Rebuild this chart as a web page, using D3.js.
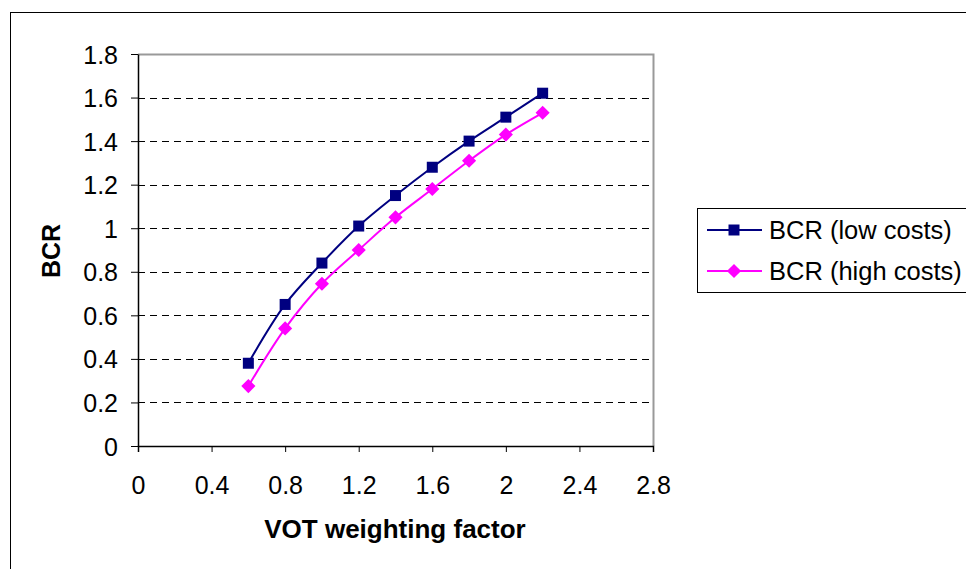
<!DOCTYPE html>
<meta charset="utf-8">
<script src="https://d3js.org/d3.v7.min.js"></script>
<style>
body { margin: 0; background: #fff; }
text { font-family: "Liberation Sans", Arial, Helvetica, sans-serif; }
</style>
<div id="chart"></div>
<script>
// values
const factors = [0.6, 0.8, 1.0, 1.2, 1.4, 1.6, 1.8, 2.0, 2.2];
const bcrLow  = [0.38, 0.65, 0.84, 1.01, 1.15, 1.28, 1.40, 1.51, 1.62];
const bcrHigh = [0.275, 0.54, 0.745, 0.90, 1.05, 1.18, 1.31, 1.43, 1.53];
const xTicks = [0, 0.4, 0.8, 1.2, 1.6, 2, 2.4, 2.8];
const yTicks = [0, 0.2, 0.4, 0.6, 0.8, 1, 1.2, 1.4, 1.6, 1.8];
const seriesNames = ["BCR (low costs)", "BCR (high costs)"];

const W = 966, H = 569;
const plot = {left: 138, top: 54, right: 653, bottom: 446};

const svg = d3.select("#chart").append("svg")
    .attr("width", W)
    .attr("height", H);

// outer chart border (runs off the right and bottom)
svg.append("rect")
    .attr("x", 10.5).attr("y", 12.5)
    .attr("width", 1000).attr("height", 1000)
    .attr("fill", "none").attr("stroke", "#000").attr("stroke-width", 1);

const x = d3.scaleLinear().domain([0, 2.8]).range([plot.left, plot.right]);
const y = d3.scaleLinear().domain([0, 1.8]).range([plot.bottom, plot.top]);

// dashed gridlines
svg.append("g")
  .selectAll("line")
  .data(yTicks.filter(d => d > 0 && d < 1.8))
  .join("line")
    .attr("x1", plot.left).attr("x2", plot.right)
    .attr("y1", d => Math.round(y(d)) + 0.5).attr("y2", d => Math.round(y(d)) + 0.5)
    .attr("stroke", "#000").attr("stroke-dasharray", "7,5");

// plot area frame: grey on top & right
svg.append("path")
    .attr("d", `M${plot.left},${plot.top + 0.5}H${plot.right + 0.5}V${plot.bottom}`)
    .attr("fill", "none").attr("stroke", "#999").attr("stroke-width", 2);

// axes
const xAxis = svg.append("g")
    .attr("transform", `translate(0,${plot.bottom})`)
    .call(d3.axisBottom(x).tickValues(xTicks).tickFormat(d3.format("~g")).tickSize(6).tickSizeOuter(6));
const yAxis = svg.append("g")
    .attr("transform", `translate(${plot.left},0)`)
    .call(d3.axisLeft(y).tickValues(yTicks).tickFormat(d3.format("~g")).tickSize(7).tickSizeOuter(0));

[xAxis, yAxis].forEach(a => {
  a.selectAll("text").style("font-size", "25px").attr("fill", "#000");
  a.selectAll("line").attr("stroke", "#000");
  a.select(".domain").attr("stroke", "#000").attr("stroke-width", 1.5);
});
xAxis.selectAll("text").attr("y", 0).attr("dy", 0).attr("transform", "translate(0,48)");
yAxis.selectAll("text").attr("x", -20).attr("dy", "0.36em");

// axis titles
svg.append("text")
    .attr("x", 395)
    .attr("y", 538)
    .attr("text-anchor", "middle")
    .style("font-size", "26px").style("font-weight", "bold")
    .text("VOT weighting factor");
svg.append("text")
    .attr("transform", `translate(60,251) rotate(-90)`)
    .attr("text-anchor", "middle")
    .style("font-size", "25px").style("font-weight", "bold")
    .text("BCR");

// series (diamond = square turned 45 degrees, like Excel's marker)
const series = [
  {name: seriesNames[0], values: bcrLow, color: "#000080", size: 121, rot: 0},
  {name: seriesNames[1], values: bcrHigh, color: "#FF00FF", size: 100, rot: 45}
];

const line = d3.line()
    .x(d => x(d[0]))
    .y(d => y(d[1]))
    .curve(d3.curveCatmullRom.alpha(0.5));

series.forEach(s => {
  const pts = factors.map((f, i) => [f, s.values[i]]);
  svg.append("path")
      .datum(pts)
      .attr("d", line)
      .attr("fill", "none")
      .attr("stroke", s.color)
      .attr("stroke-width", 2);
  svg.append("g")
    .selectAll("path")
    .data(pts)
    .join("path")
      .attr("transform", d => `translate(${x(d[0])},${y(d[1])}) rotate(${s.rot})`)
      .attr("d", d3.symbol().type(d3.symbolSquare).size(s.size))
      .attr("fill", s.color);
});

// legend
const legend = svg.append("g");
legend.append("rect")
    .attr("x", 697.5).attr("y", 208.5)
    .attr("width", 400).attr("height", 84)
    .attr("fill", "#fff").attr("stroke", "#000");
series.forEach((s, i) => {
  const cy = 230 + i * 41;
  legend.append("line")
      .attr("x1", 707).attr("x2", 762)
      .attr("y1", cy).attr("y2", cy)
      .attr("stroke", s.color).attr("stroke-width", 2);
  legend.append("path")
      .attr("transform", `translate(734,${cy}) rotate(${s.rot})`)
      .attr("d", d3.symbol().type(d3.symbolSquare).size(s.size))
      .attr("fill", s.color);
  legend.append("text")
      .attr("x", 769).attr("y", cy)
      .attr("dy", "0.36em")
      .style("font-size", "25.5px")
      .text(s.name);
});
</script>
